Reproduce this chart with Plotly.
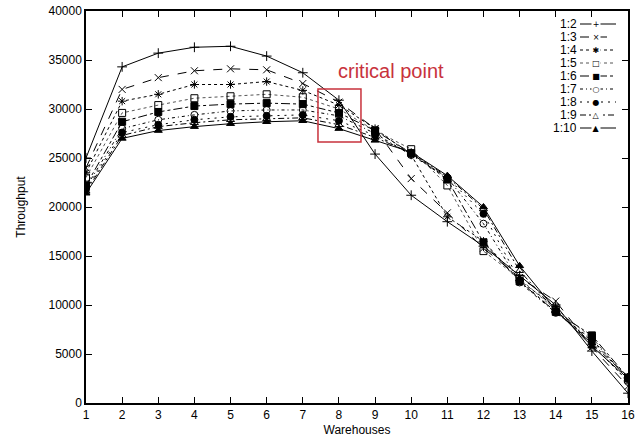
import plotly.graph_objects as go

warehouses = list(range(1, 17))
series_names = ["1:2", "1:3", "1:4", "1:5", "1:6", "1:7", "1:8", "1:9", "1:10"]

s_1_2 = [25000, 34300, 35700, 36300, 36400, 35400, 33700, 30900, 25400, 21200, 18500, 16000, 13000, 10000, 5300, 1000]
s_1_3 = [24000, 32000, 33200, 33900, 34100, 34000, 32600, 30700, 28000, 22900, 19400, 15800, 12800, 10400, 5700, 1700]
s_1_4 = [23500, 30800, 31500, 32500, 32500, 32800, 31900, 30400, 28000, 25300, 19000, 16500, 12500, 9800, 6000, 2200]
s_1_5 = [23000, 29600, 30400, 31100, 31300, 31500, 31200, 30000, 27800, 25900, 22200, 15500, 12700, 9500, 6700, 2400]
s_1_6 = [22200, 28700, 29700, 30300, 30500, 30600, 30500, 29600, 27800, 25500, 22800, 16400, 12400, 9300, 6900, 2600]
s_1_7 = [22000, 28000, 28900, 29400, 29800, 29900, 29900, 29300, 27500, 25300, 23000, 18300, 12300, 9200, 6500, 2500]
s_1_8 = [21800, 27600, 28400, 28900, 29200, 29300, 29400, 28800, 27300, 25400, 23000, 19300, 12500, 9300, 6300, 2600]
s_1_9 = [21600, 27300, 28200, 28600, 28900, 29000, 29100, 28400, 27100, 25500, 23100, 19800, 13500, 9400, 6100, 2700]
s_1_10 = [21400, 27000, 27800, 28200, 28500, 28700, 28800, 28000, 26800, 25600, 23200, 20000, 14000, 9500, 5800, 2500]

all_series = [s_1_2, s_1_3, s_1_4, s_1_5, s_1_6, s_1_7, s_1_8, s_1_9, s_1_10]

y_ticks = [0, 5000, 10000, 15000, 20000, 25000, 30000, 35000, 40000]
y_tick_labels = [str(v) for v in y_ticks]

dashes = ["solid", "dash", "dot", "dot", "dashdot", "3px,3px,1px,3px", "2px,5px", "6px,3px,2px,3px", "solid"]
symbols = ["cross-thin-open", "x-thin-open", "asterisk-open", "square-open", "square",
           "circle-open", "circle", "triangle-up-open", "triangle-up"]
legend_glyphs = ["+", "×", "✱", "□", "■", "○", "●", "△", "▲"]
line_colors = ["black", "black", "black", "#555", "black", "black", "black", "black", "black"]

fig = go.Figure()
for name, vals, d, sym, lc in zip(series_names, all_series, dashes, symbols, line_colors):
    fig.add_trace(go.Scatter(
        x=warehouses, y=vals, name=name, mode="lines+markers",
        line=dict(color=lc, width=1, dash=d),
        marker=dict(symbol=sym, size=7, color="black", line=dict(color="black", width=1)),
        showlegend=False,
    ))

# custom gnuplot-style legend (text, then line sample with glyph)
plot_top_px, plot_h_px, plot_left_px, plot_w_px = 11, 392, 86, 542
for i, (name, d, g, lc) in enumerate(zip(series_names, dashes, legend_glyphs, line_colors)):
    ypix = 24 + 13 * i
    yp = (plot_top_px + plot_h_px - ypix) / plot_h_px
    fig.add_shape(type="line", xref="paper", yref="paper",
                  x0=(580 - plot_left_px) / plot_w_px, x1=(616 - plot_left_px) / plot_w_px,
                  y0=yp, y1=yp, line=dict(color=lc, width=1, dash=d))
    fig.add_annotation(xref="paper", yref="paper", x=(578 - plot_left_px) / plot_w_px, y=yp,
                       xanchor="right", yanchor="middle", text=name, showarrow=False,
                       height=12, borderpad=0, font=dict(size=12, color="black"))
    fig.add_annotation(xref="paper", yref="paper", x=(596 - plot_left_px) / plot_w_px, y=yp,
                       xanchor="center", yanchor="middle", text=g, showarrow=False,
                       height=8, width=8, borderpad=0,
                       font=dict(size=8, color="black", family="DejaVu Sans"), bgcolor="white")

# critical point highlight
fig.add_shape(type="rect", x0=7.42, x1=8.61, y0=26630, y1=32040,
              line=dict(color="#c8323c", width=1.5), fillcolor="rgba(0,0,0,0)")
fig.add_annotation(x=9.43, y=33880, text="critical point", showarrow=False,
                   font=dict(color="#c8323c", size=20, family="Liberation Sans, Arial"))

axis_common = dict(showline=True, linecolor="black", linewidth=1.5, mirror="ticks",
                   ticks="inside", tickcolor="black", ticklen=6, showgrid=False, zeroline=False,
                   tickfont=dict(size=12, color="black"), automargin=False)

fig.update_xaxes(range=[1, 16], tickvals=warehouses,
                 title=dict(text="Warehouses", standoff=4, font=dict(size=12)), **axis_common)
fig.update_yaxes(range=[0, 40000], tickvals=y_ticks, ticktext=y_tick_labels,
                 title=dict(text="Throughput", standoff=20, font=dict(size=12)), **axis_common)

fig.update_layout(
    width=644, height=444,
    margin=dict(l=86, r=16, t=11, b=41),
    paper_bgcolor="white", plot_bgcolor="white",
    font=dict(family="Liberation Sans, Arial, sans-serif", color="black", size=12),
    showlegend=False,
)

fig.write_html("out.html", config={"displayModeBar": False},
               post_script="document.body.style.margin='0';")
